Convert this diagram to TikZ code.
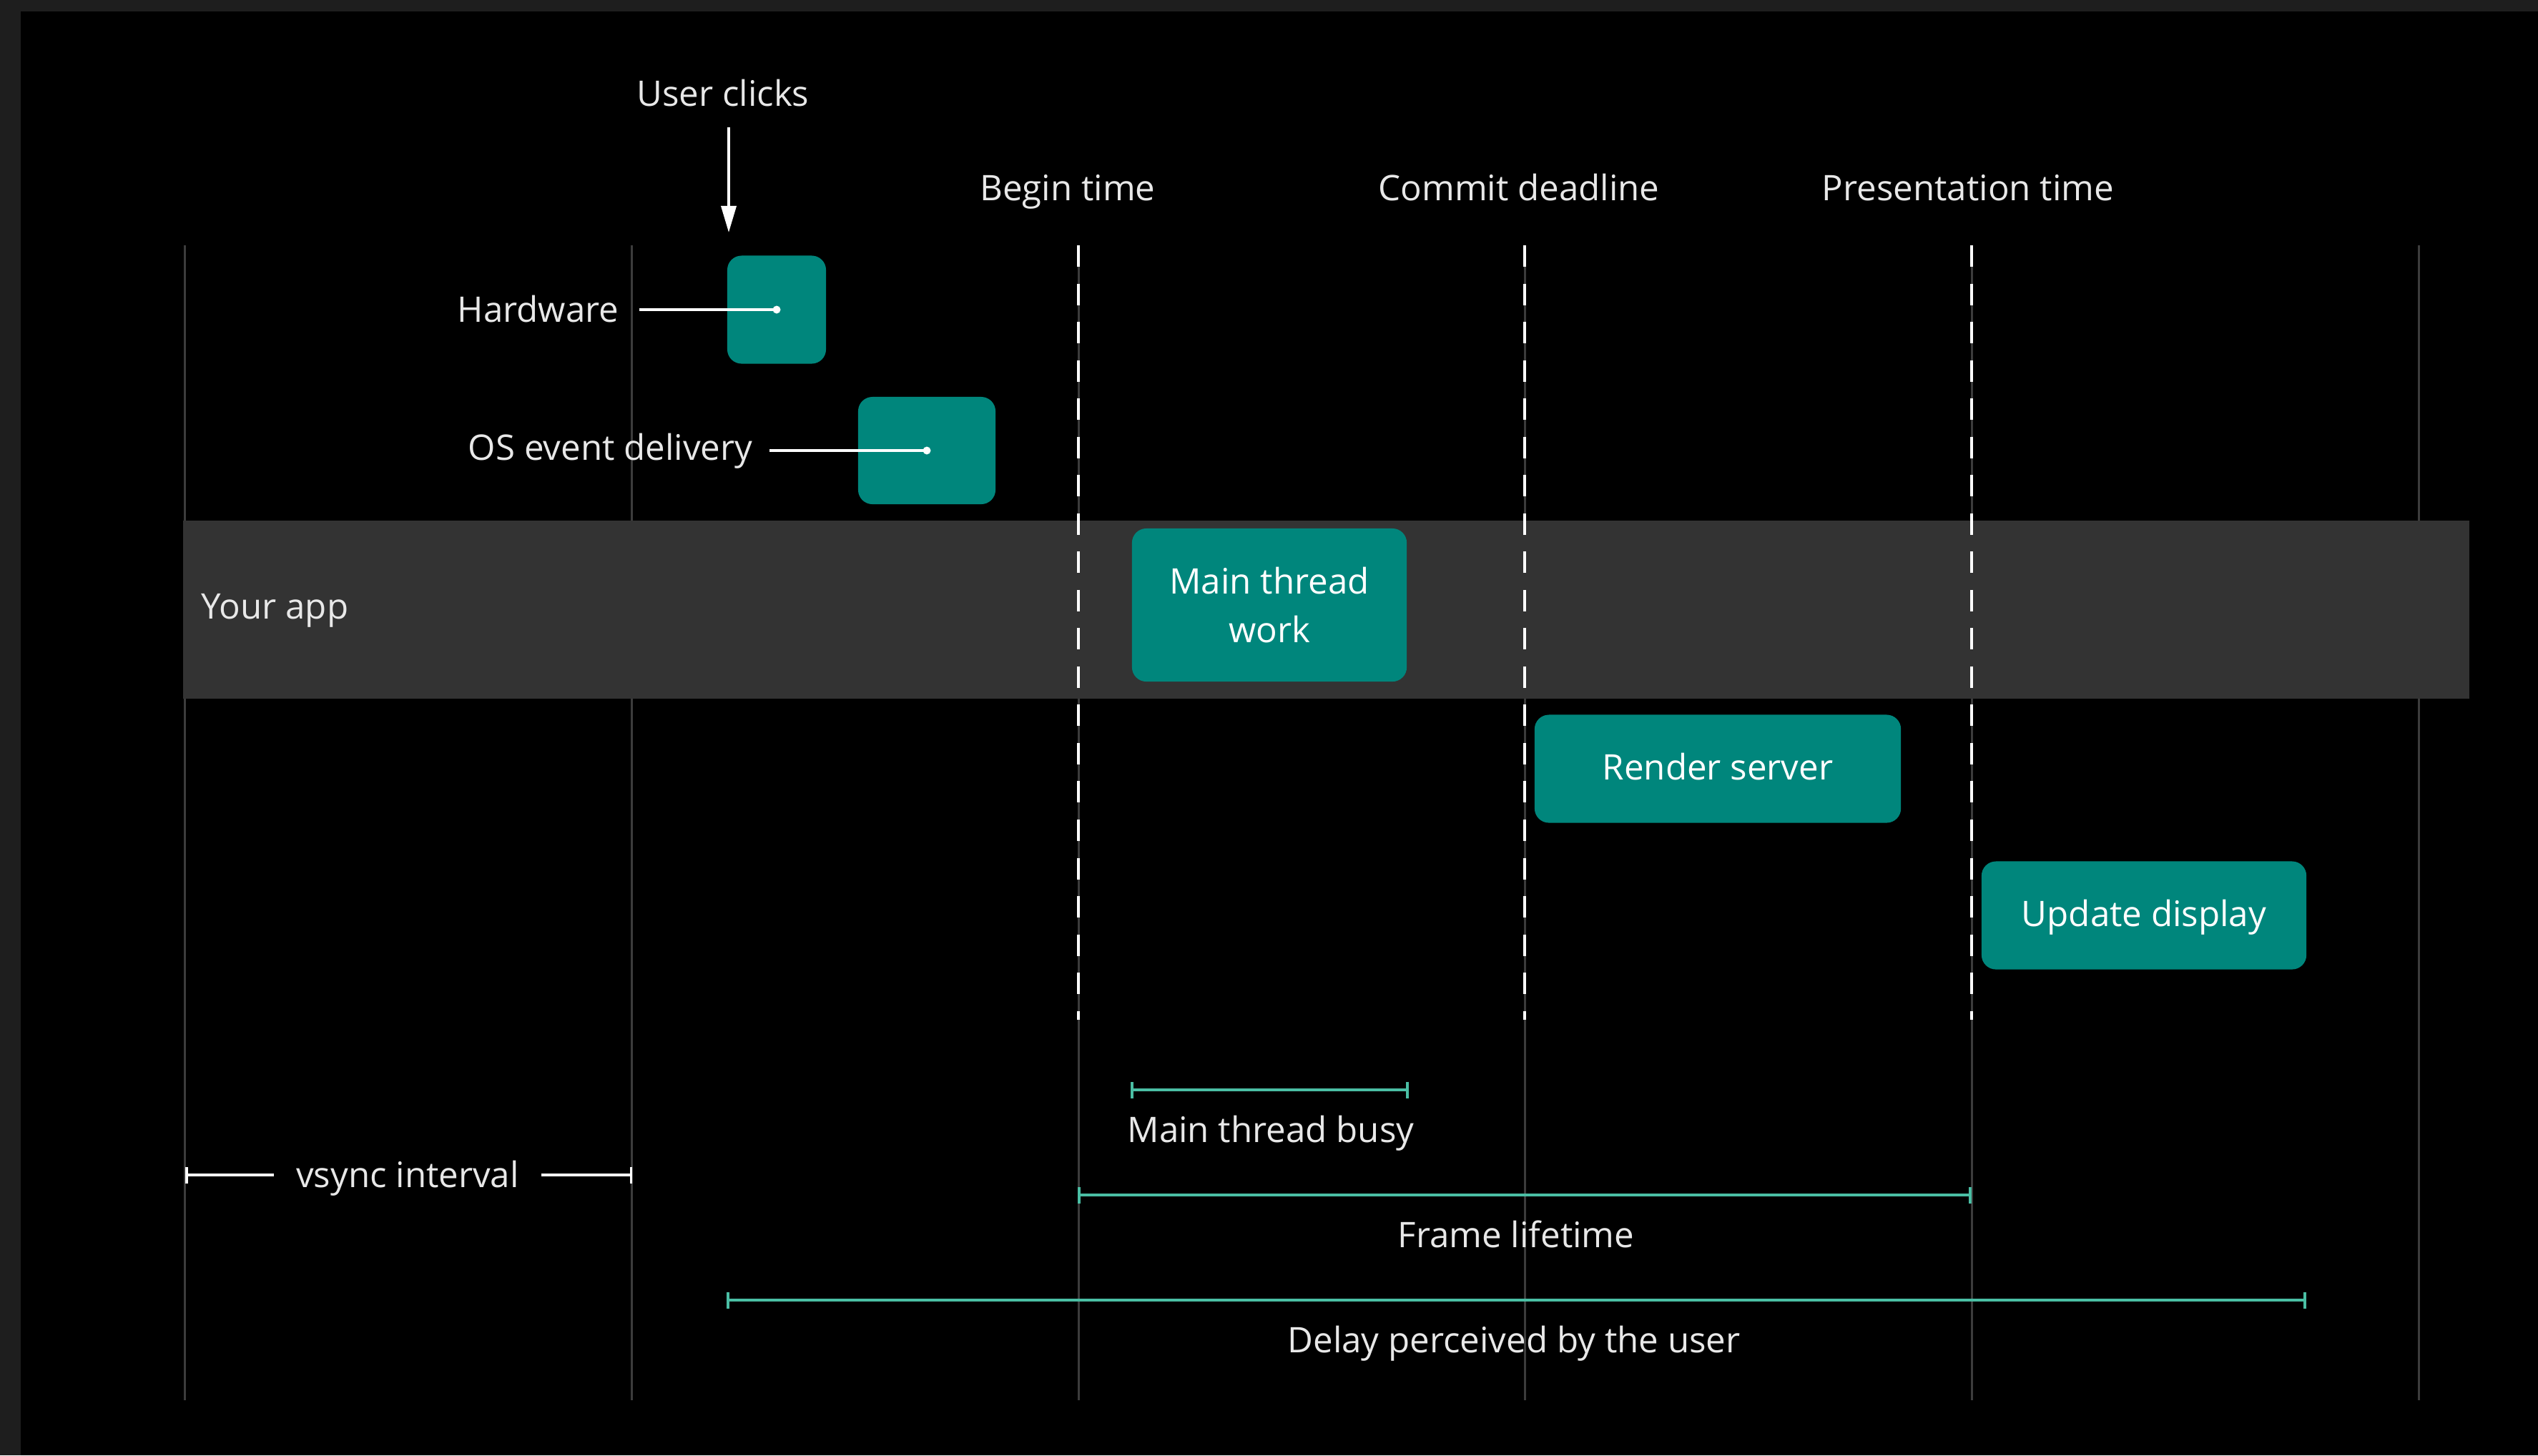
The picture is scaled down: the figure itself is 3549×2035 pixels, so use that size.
\documentclass[tikz,border=0pt]{standalone}
\usepackage{fontspec}
\setmainfont{Open Sans}
\usetikzlibrary{arrows.meta}

\definecolor{edgegray}{RGB}{30,30,30}
\definecolor{bandgray}{RGB}{51,51,51}
\definecolor{gridgray}{RGB}{60,60,60}
\definecolor{tealbox}{RGB}{0,134,124}
\definecolor{tealline}{RGB}{74,190,164}
\definecolor{labeltext}{RGB}{232,232,232}

\begin{document}
\begin{tikzpicture}[
  x=0.01cm, y=-0.01cm,
  font=\fontsize{14}{19.6}\selectfont,
  gridline/.style={draw=gridgray, line width=0.03cm},
  dashline/.style={draw=white, line width=0.04cm, dash pattern=on 0.30cm off 0.235cm},
  tbox/.style={fill=tealbox, rounded corners=0.2cm, text=white, inner sep=0pt, align=center},
  onerow/.style={text height=10pt, text depth=1.3pt},
  lbl/.style={text=labeltext, inner sep=0pt, text height=10pt, text depth=0pt},
  wline/.style={draw=white, line width=0.035cm},
  tbar/.style={draw=tealline, line width=0.04cm, {Bar[width=0.23cm]}-{Bar[width=0.23cm]}},
]
\useasboundingbox (0,0) rectangle (3549,2035);

% canvas and window edge
\fill[black] (0,0) rectangle (3549,2035);
\fill[edgegray] (0,0) rectangle (3549,16);
\fill[edgegray] (0,16) rectangle (29,2035);

% vsync grid
\foreach \gx in {258,883,1508,2132,2757,3382}
  \draw[gridline] (\gx,343) -- (\gx,1958);

% application lane
\fill[bandgray] (256,728) rectangle (3453,977);
\node[lbl, anchor=west] (app) at (281,848) {Your app};

% frame milestones
\foreach \gx in {1508,2132,2757}
  \draw[dashline] (\gx,343) -- (\gx,1426);
\node[lbl] (begin)   at (1493,263) {Begin time};
\node[lbl] (commit)  at (2124,263) {Commit deadline};
\node[lbl] (present) at (2752,263) {Presentation time};

% stages
\node[tbox, minimum width=1.38cm, minimum height=1.51cm] (hw) at (1086,433) {};
\node[tbox, minimum width=1.92cm, minimum height=1.50cm] (os) at (1296,630) {};
\node[tbox, minimum width=3.84cm, minimum height=2.14cm] (main) at (1775,846) {};
\node[text=white, inner sep=0pt, align=center] (mainlbl) at (main.center) {Main thread\\work};
\node[tbox, onerow, minimum width=5.12cm, minimum height=1.51cm] (render) at (2402,1075) {Render server};
\node[tbox, onerow, minimum width=4.54cm, minimum height=1.51cm] (update) at (2998,1280) {Update display};

% user input
\node[lbl] (click) at (1011,131) {User clicks};
\coordinate (clicktip) at (1019,325);
\draw[wline, shorten <=0.29cm, -{Triangle[length=0.37cm,width=0.21cm]}] (click.south -| clicktip) -- (clicktip);

% stage labels with leader lines
\node[lbl, anchor=east] (hwl) at (866,433) {Hardware};
\draw[wline, shorten <=0.28cm] (hwl.east |- hw.center) -- (hw.center);
\fill[white] (hw.center) circle[radius=0.055cm];
\node[lbl, anchor=east] (osl) at (1053,626) {OS event delivery};
\draw[wline, shorten <=0.23cm] (osl.east |- os.center) -- (os.center);
\fill[white] (os.center) circle[radius=0.055cm];

% vsync interval
\coordinate (vsl) at (259,1643);
\coordinate (vsr) at (884,1643);
\node[lbl, inner xsep=0.3cm] (vs) at (570,1643) {vsync interval};
\draw[wline, {Bar[width=0.23cm]}-] (vsl) -- (vs.west);
\draw[wline, -{Bar[width=0.23cm]}] (vs.east) -- (vsr);

% measured spans
\coordinate (busyl) at (1581,1524);
\coordinate (busyr) at (1970,1524);
\draw[tbar] (busyl) -- (busyr);
\node[lbl] (busy) at (1777,1580) {Main thread busy};

\coordinate (framel) at (1507,1671);
\coordinate (framer) at (2757,1671);
\draw[tbar] (framel) -- (framer);
\node[lbl] (frame) at (2120,1727) {Frame lifetime};

\coordinate (delayl) at (1016,1818);
\coordinate (delayr) at (3225,1818);
\draw[tbar] (delayl) -- (delayr);
\node[lbl] (delay) at (2117,1874) {Delay perceived by the user};
\end{tikzpicture}
\end{document}
